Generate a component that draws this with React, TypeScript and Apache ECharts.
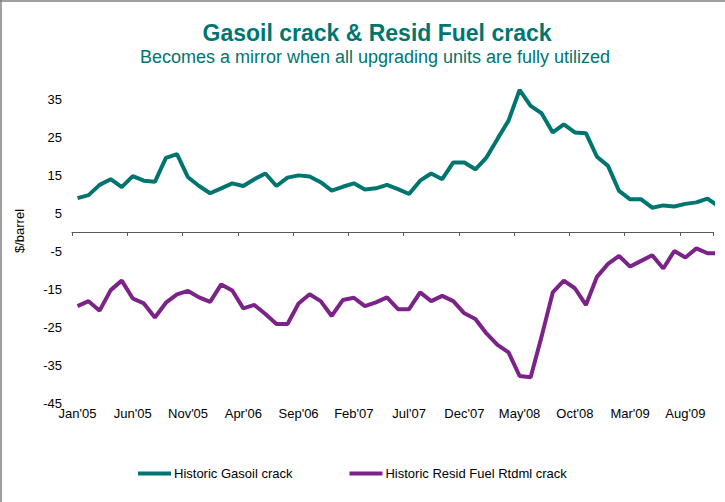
import React, { useEffect, useRef } from 'react';
import * as echarts from 'echarts';

const categories = [
  "Jan'05", "Feb'05", "Mar'05", "Apr'05", "May'05", "Jun'05", "Jul'05", "Aug'05", "Sep'05", "Oct'05", "Nov'05", "Dec'05",
  "Jan'06", "Feb'06", "Mar'06", "Apr'06", "May'06", "Jun'06", "Jul'06", "Aug'06", "Sep'06", "Oct'06", "Nov'06", "Dec'06",
  "Jan'07", "Feb'07", "Mar'07", "Apr'07", "May'07", "Jun'07", "Jul'07", "Aug'07", "Sep'07", "Oct'07", "Nov'07", "Dec'07",
  "Jan'08", "Feb'08", "Mar'08", "Apr'08", "May'08", "Jun'08", "Jul'08", "Aug'08", "Sep'08", "Oct'08", "Nov'08", "Dec'08",
  "Jan'09", "Feb'09", "Mar'09", "Apr'09", "May'09", "Jun'09", "Jul'09", "Aug'09", "Sep'09", "Oct'09", "Nov'09",
];

const gasoilCrack = [
  8.9, 9.7, 12.4, 13.9, 11.8, 14.7, 13.5, 13.2, 19.5, 20.5,
  14.4, 12.1, 10.2, 11.5, 12.8, 12.1, 13.9, 15.4, 12.1, 14.3,
  14.9, 14.6, 13.1, 10.9, 11.9, 12.8, 11.2, 11.5, 12.4, 11.3,
  10.0, 13.5, 15.4, 13.9, 18.3, 18.3, 16.5, 19.6, 24.5, 29.3,
  37.4, 33.2, 31.2, 26.2, 28.3, 26.2, 26.0, 19.8, 17.4, 10.8,
  8.6, 8.6, 6.4, 7.0, 6.7, 7.4, 7.8, 8.8, 6.8,
];

const residCrack = [
  -19.5, -18.2, -20.7, -15.3, -12.8, -17.5, -18.8, -22.5, -18.6, -16.4,
  -15.5, -17.2, -18.4, -13.8, -15.4, -20.1, -19.2, -21.6, -24.2, -24.2,
  -18.8, -16.4, -18.2, -22.1, -17.9, -17.3, -19.5, -18.5, -17.2, -20.3,
  -20.3, -15.9, -18.2, -16.8, -18.2, -21.4, -22.9, -26.7, -29.7, -31.7,
  -37.9, -38.2, -27.4, -15.9, -12.8, -14.8, -19.2, -11.8, -8.4, -6.3,
  -9.1, -7.6, -6.1, -9.6, -5.0, -6.7, -4.3, -5.6, -5.6,
];

const seriesNames = ['Historic Gasoil crack', 'Historic Resid Fuel Rtdml crack'];
const titleText = 'Gasoil crack & Resid Fuel crack';
const subtitleText = 'Becomes a mirror when all upgrading units are fully utilized';
const yAxisName = '$/barrel';
const yMin = -45;
const yMax = 40;
const yInterval = 10;
const lastVisibleIndex = 57;

const TEAL = '#00756F';
const PURPLE = '#7B2388';
const FONT = '"Liberation Sans", Arial, sans-serif';

export default function App() {
  const ref = useRef<HTMLDivElement>(null);

  useEffect(() => {
    if (!ref.current) return;
    const chart = echarts.init(ref.current, undefined, { renderer: 'svg' });
    chart.setOption({
      animation: false,
      backgroundColor: '#ffffff',
      textStyle: { fontFamily: FONT },
      grid: { left: 72, right: 12, top: 80, bottom: 99, containLabel: false },
      xAxis: [
        {
          type: 'category',
          data: categories,
          max: lastVisibleIndex,
          boundaryGap: true,
          position: 'bottom',
          axisLine: { show: false, onZero: false },
          axisTick: { show: false },
          splitLine: { show: false },
          axisLabel: { interval: 4, margin: 4, color: '#000', fontSize: 13, fontFamily: FONT },
        },
        {
          type: 'category',
          data: categories,
          max: lastVisibleIndex,
          boundaryGap: true,
          position: 'bottom',
          axisLine: { show: true, onZero: true, lineStyle: { color: '#595959', width: 1 } },
          axisTick: { show: true, interval: 4, length: 4, lineStyle: { color: '#595959', width: 1 } },
          axisLabel: { show: false },
          splitLine: { show: false },
        },
      ],
      yAxis: {
        type: 'value',
        min: yMin,
        max: yMax,
        interval: yInterval,
        axisLine: { show: false },
        axisTick: { show: false },
        splitLine: { show: false },
        axisLabel: {
          showMaxLabel: false,
          margin: 10,
          color: '#000',
          fontSize: 13,
          fontFamily: FONT,
          formatter: (v: number) => (v === yMax ? '' : String(v)),
        },
      },
      legend: {
        data: seriesNames,
        left: 133,
        top: 462,
        icon: 'rect',
        itemWidth: 33,
        itemHeight: 4,
        itemGap: 57,
        textStyle: { color: '#000', fontSize: 13, fontFamily: FONT, padding: [0, 0, 0, -2] },
      },
      series: [
        {
          name: seriesNames[0],
          type: 'line',
          data: gasoilCrack,
          xAxisIndex: 0,
          symbol: 'none',
          clip: true,
          lineStyle: { color: TEAL, width: 4 },
          itemStyle: { color: TEAL },
        },
        {
          name: seriesNames[1],
          type: 'line',
          data: residCrack,
          xAxisIndex: 0,
          symbol: 'none',
          clip: true,
          lineStyle: { color: PURPLE, width: 4 },
          itemStyle: { color: PURPLE },
        },
      ],
      graphic: [
        { type: 'line', shape: { x1: 0, y1: 1, x2: 725, y2: 1 }, style: { stroke: '#7f7f7f', lineWidth: 1.5 } },
        { type: 'line', shape: { x1: 1, y1: 0, x2: 1, y2: 502 }, style: { stroke: '#7f7f7f', lineWidth: 1.5 } },
        {
          type: 'text',
          x: 377,
          y: 33,
          style: {
            text: titleText,
            fill: TEAL,
            font: `bold 23px ${FONT}`,
            textAlign: 'center',
            textVerticalAlign: 'middle',
          },
        },
        {
          type: 'text',
          x: 375,
          y: 57,
          style: {
            text: subtitleText,
            fill: TEAL,
            font: `18px ${FONT}`,
            textAlign: 'center',
            textVerticalAlign: 'middle',
          },
        },
        {
          type: 'text',
          x: 19,
          y: 231,
          rotation: Math.PI / 2,
          style: {
            text: yAxisName,
            fill: '#000',
            font: `13px ${FONT}`,
            textAlign: 'center',
            textVerticalAlign: 'middle',
          },
        },
      ],
    });
    return () => chart.dispose();
  }, []);

  return (
    <div
      ref={ref}
      style={{ position: 'fixed', left: 0, top: 0, width: 725, height: 502, background: '#fff' }}
    />
  );
}
